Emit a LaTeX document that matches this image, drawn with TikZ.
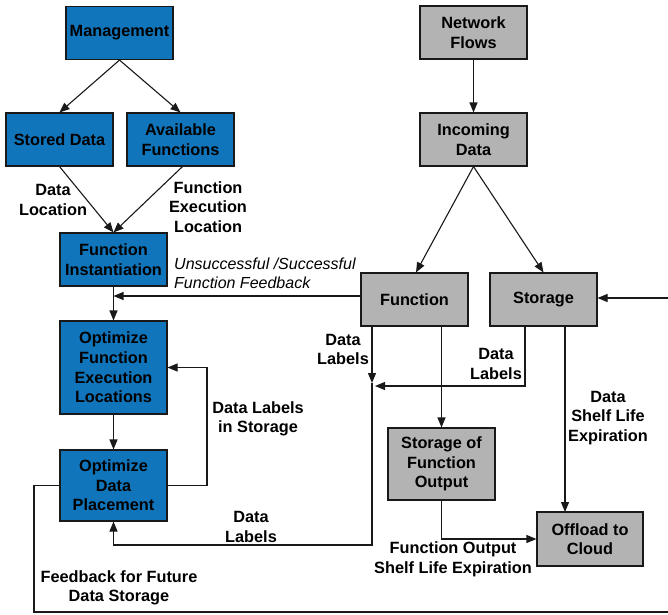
\documentclass[tikz,border=0pt]{standalone}
\usepackage{fontspec}
\setmainfont{Liberation Sans}
\usetikzlibrary{arrows.meta}
\definecolor{blueF}{RGB}{16,117,187}
\definecolor{grayF}{RGB}{179,179,179}
\definecolor{lineC}{RGB}{25,25,25}
\begin{document}
\begin{tikzpicture}[x=1pt,y=-1pt,
  font=\fontsize{16.3}{19.6}\selectfont\bfseries,
  box/.style={draw=lineC,line width=1.1pt,minimum width=107pt,minimum height=53pt,align=center,inner sep=0pt},
  bbox/.style={box,fill=blueF},
  gbox/.style={box,fill=grayF},
  arr/.style={draw=lineC,line width=1.1pt,-{Triangle[length=10pt,width=8pt]}},
  ln/.style={draw=lineC,line width=1.1pt},
  lab/.style={align=center,inner sep=0pt}]
\useasboundingbox (0,0) rectangle (668,614);
\fill[white] (0,0) rectangle (668,614);
% nodes
\node[bbox] (mgmt) at (119.5,33) {Management};
\node[bbox] (stored) at (59.5,139.5) {Stored Data};
\node[bbox] (avail) at (180.5,139.5) {Available\\Functions};
\node[bbox] (finst) at (113.5,259.5) {Function\\Instantiation};
\node[bbox,minimum height=93pt] (optf) at (113.5,367.5) {Optimize\\Function\\Execution\\Locations};
\node[bbox,minimum height=71pt] (optd) at (113.5,485.5) {Optimize\\Data\\Placement};
\node[gbox] (netf) at (473.5,32.5) {Network\\Flows};
\node[gbox] (incd) at (473.5,139.5) {Incoming\\Data};
\node[gbox] (func) at (414.5,299.5) {Function};
\node[gbox] (stor) at (543.5,299.5) {Storage};
\node[gbox,minimum height=72pt] (sfo) at (441.5,464) {Storage of\\Function\\Output};
\node[gbox,minimum width=106pt,minimum height=54pt] (off) at (590,539) {Offload to\\Cloud};
% coordinates
\coordinate (fbj) at (113.5,296);
\coordinate (fdl) at (372,326);
\coordinate (jf) at (372,383);
\coordinate (jl) at (375,386);
\coordinate (fb1) at (372,545);
\coordinate (fb2) at (113.5,545);
\coordinate (sdl) at (525,326);
\coordinate (ssl) at (565,326);
\coordinate (ssl2) at (565,512);
\coordinate (lp) at (207,485.5);
\coordinate (fe1) at (34,485.5);
\coordinate (fe2) at (34,612);
\coordinate (fe3) at (668,612);
\coordinate (rin) at (668,298);
% connectors
\draw[arr] (mgmt.south) -- (stored.north);
\draw[arr] (mgmt.south) -- (avail.north);
\draw[arr] (stored.south) -- (finst.north);
\draw[arr] ([xshift=2pt]avail.south) -- (finst.north);
\draw[arr] (netf) -- (incd);
\draw[arr] (incd.south) -- ([xshift=1.5pt]func.north);
\draw[arr] (incd.south) -- (stor.north);
\draw[arr] (finst) -- (optf);
\draw[arr] (optf) -- (optd);
\draw[arr] (func.west |- fbj) -- (fbj);
\draw[arr] (fdl) -- (jf);
\draw[arr] (jf) -- (fb1) -- (fb2) -- (optd.south);
\draw[arr] (sdl) |- (jl);
\draw[arr] (sfo.north |- func.south) -- (sfo.north);
\draw[arr] (ssl) -- (ssl2);
\draw[arr] (sfo.south) |- (off.west);
\draw[arr] (optd.east) -- (lp) |- (optf.east);
\draw[ln] (optd.west) -- (fe1) -- (fe2) -- (fe3);
\draw[arr] (rin) -- (stor.east |- rin);
% labels
\node[lab] (l1) at (53,200) {Data\\Location};
\node[lab] (l2) at (208,207) {Function\\Execution\\Location};
\node[lab,anchor=west,align=left,font=\fontsize{16}{19.5}\selectfont\itshape] (l3) at (174,273.5) {Unsuccessful /Successful\\Function Feedback};
\node[lab] (l4) at (343,349.5) {Data\\Labels};
\node[lab] (l5) at (496,364) {Data\\Labels};
\node[lab] (l6) at (608,418) {Data\\Shelf Life\\Expiration};
\node[lab] (l7) at (258,419) {Data Labels\\in Storage};
\node[lab] (l8) at (251,527) {Data\\Labels};
\node[lab] (l9) at (453,559.5) {Function Output\\Shelf Life Expiration};
\node[lab] (l10) at (119,588) {Feedback for Future\\Data Storage};
\end{tikzpicture}
\end{document}
